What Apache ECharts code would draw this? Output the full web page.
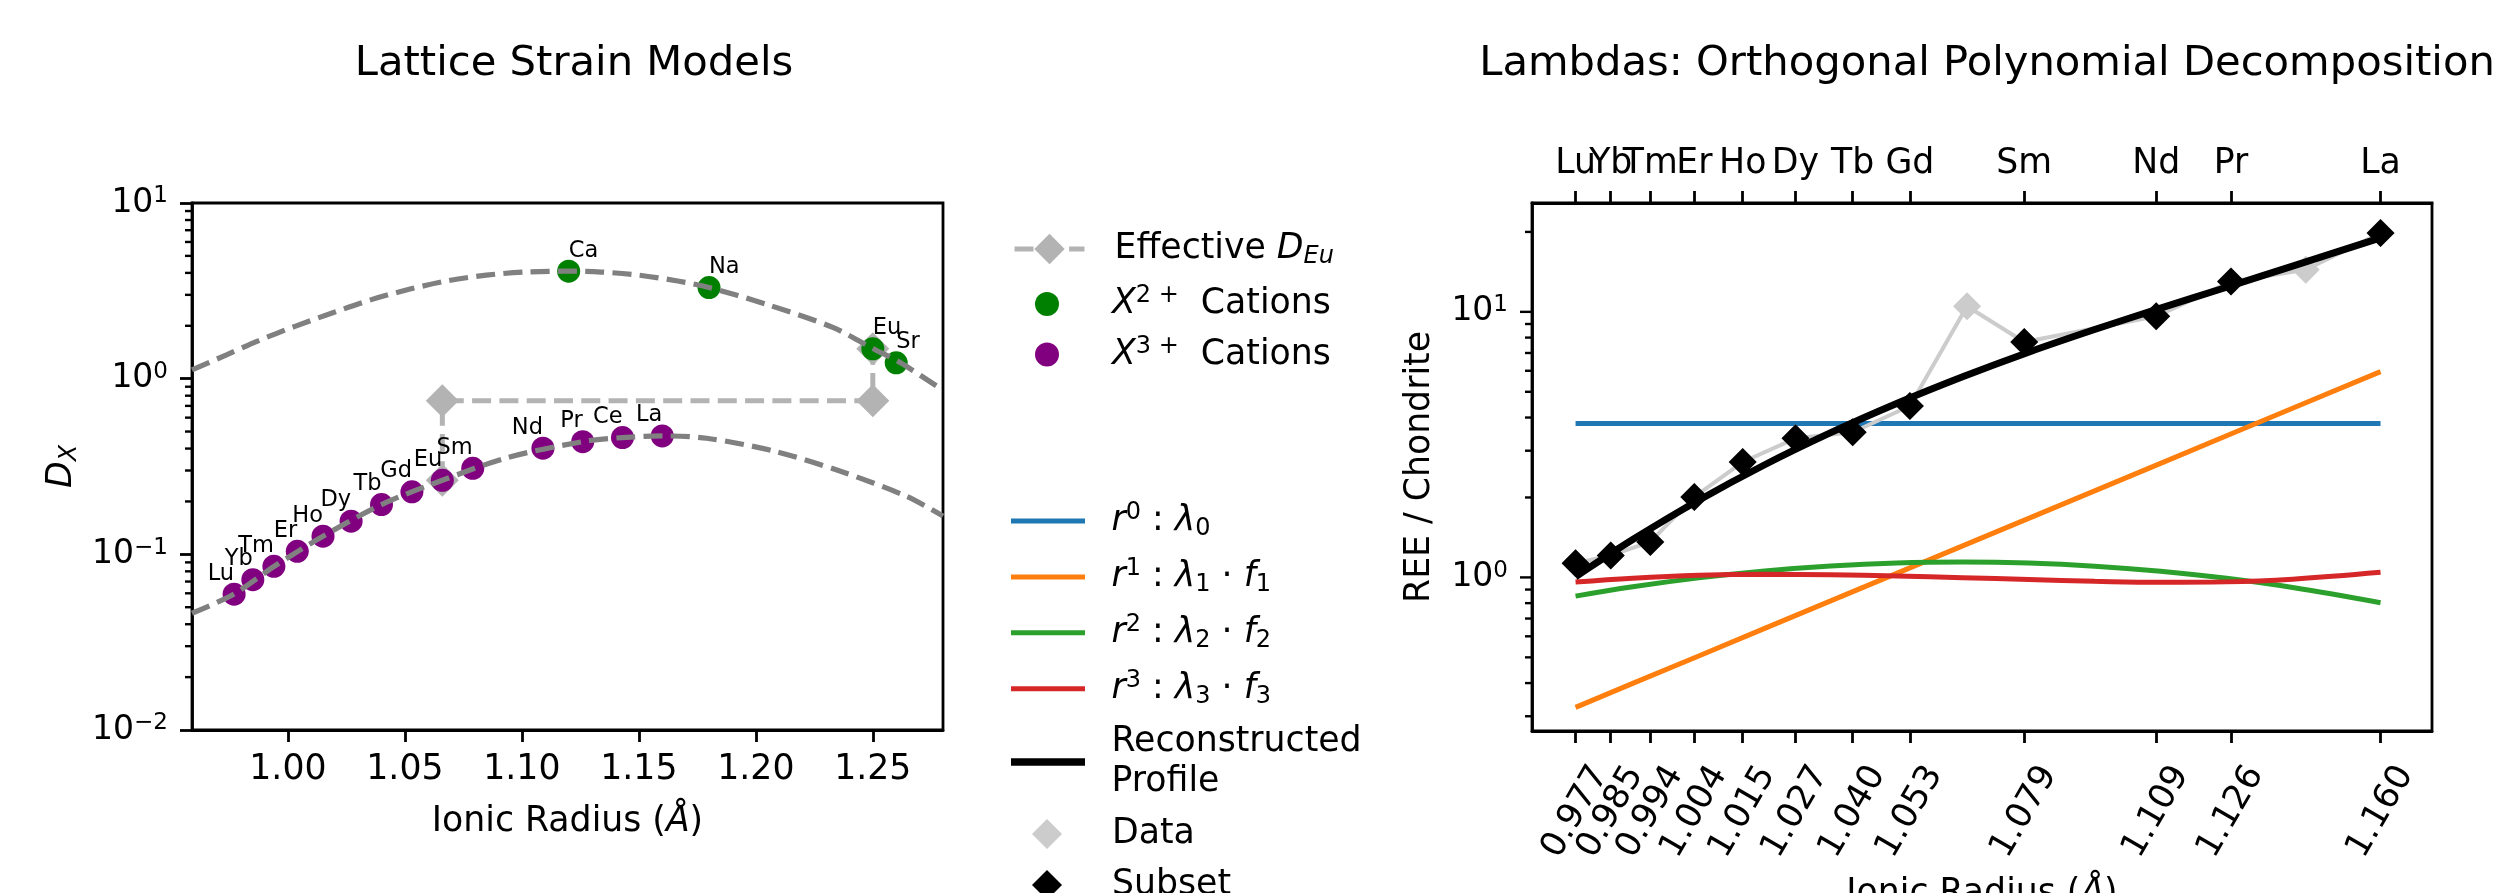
<!DOCTYPE html>
<html><head><meta charset="utf-8">
<script src="https://cdn.jsdelivr.net/npm/echarts@6/dist/echarts.min.js"></script>
<style>html,body{margin:0;padding:0;background:#fff}#c{width:2499px;height:893px}</style>
</head><body><div id="c"></div>
<script>
// ---------------- data: left panel (lattice strain) ----------------
const ion3Names = ['Lu','Yb','Tm','Er','Ho','Dy','Tb','Gd','Eu','Sm','Nd','Pr','Ce','La'];
const ion3Radii = [0.977,0.985,0.994,1.004,1.015,1.027,1.040,1.053,1.066,1.079,1.109,1.126,1.143,1.160];
const ion3D     = [0.0593,0.0717,0.0854,0.104,0.1268,0.1545,0.192,0.227,0.264,0.309,0.402,0.438,0.462,0.472];
const ion2Names = ['Ca','Na','Eu','Sr'];
const ion2Radii = [1.12,1.18,1.25,1.26];
const ion2D     = [4.09,3.30,1.48,1.23];
const effEuRadii = [1.066,1.066,1.25,1.25];
const effEuD     = [0.264,0.748,0.748,1.48];
const curve2Radii = [0.959,0.974,0.987,1.003,1.0195,1.0357,1.0522,1.0686,1.0848,1.1012,1.12,1.1339,1.1501,1.1666,1.18,1.2046,1.2329,1.25,1.2615,1.28];
const curve2D     = [1.122,1.371,1.637,1.986,2.382,2.818,3.236,3.614,3.882,4.046,4.093,4.046,3.882,3.597,3.304,2.649,1.959,1.486,1.239,0.859];
const curve3Radii = [0.959,0.977,0.994,1.015,1.040,1.066,1.094,1.126,1.143,1.160,1.179,1.2074,1.2359,1.2644,1.28];
const curve3D     = [0.0462,0.0595,0.0852,0.1268,0.192,0.264,0.356,0.438,0.462,0.472,0.458,0.388,0.298,0.214,0.165];
const leftXMin = 0.959, leftXMax = 1.280;
const leftXTicks = [1.00,1.05,1.10,1.15,1.20,1.25];
const leftYMinorTicks = [0.02,0.03,0.04,0.05,0.06,0.07,0.08,0.09,0.2,0.3,0.4,0.5,0.6,0.7,0.8,0.9,2,3,4,5,6,7,8,9];

// ---------------- data: right panel (lambdas) ----------------
const reeNames = ['Lu','Yb','Tm','Er','Ho','Dy','Tb','Gd','Eu','Sm','Nd','Pr','Ce','La'];
const reeRadii = [0.977,0.985,0.994,1.004,1.015,1.027,1.040,1.053,1.066,1.079,1.109,1.126,1.143,1.160];
const reeNorm  = [1.13,1.21,1.36,2.01,2.72,3.34,3.52,4.42,10.5,7.70,9.62,13.0,14.4,19.8];
const subsetNames = ['Lu','Yb','Tm','Er','Ho','Dy','Tb','Gd','Sm','Nd','Pr','La'];
const subsetRadii = [0.977,0.985,0.994,1.004,1.015,1.027,1.040,1.053,1.079,1.109,1.126,1.160];
const subsetNorm  = [1.13,1.21,1.36,2.01,2.72,3.34,3.52,4.42,7.70,9.62,13.0,19.8];
const compRadii = [0.977,0.990,1.005,1.020,1.035,1.050,1.065,1.080,1.095,1.110,1.125,1.140,1.160];
const comp0 = [3.80,3.80,3.80,3.80,3.80,3.80,3.80,3.80,3.80,3.80,3.80,3.80,3.80];
const comp1 = [0.324,0.399,0.506,0.643,0.816,1.036,1.315,1.669,2.118,2.689,3.414,4.334,5.957];
const comp2 = [0.850,0.922,0.996,1.058,1.104,1.133,1.142,1.132,1.102,1.054,0.992,0.916,0.803];
const comp3 = [0.960,0.993,1.018,1.027,1.024,1.013,0.998,0.982,0.967,0.958,0.962,0.985,1.045];
const profile = [1.006,1.388,1.952,2.656,3.508,4.519,5.696,7.050,8.58,10.33,12.38,14.87,18.99];
const rightXMin = 0.9671, rightXMax = 1.1717;
const rightYMin = 0.264, rightYMax = 25.7;
const rightYMajorTicks = [1,10];
const rightYMinorTicks = [0.3,0.4,0.5,0.6,0.7,0.8,0.9,2,3,4,5,6,7,8,9,20];

// ---------------- chart ----------------
const FONT = 'DejaVu Sans';
const FS = 34.7;
const zip = (a, b) => a.map((v, i) => [v, b[i]]);
const sup = (e) => (e < 0 ? '\u2212' + (-e) : '' + e);

const logLabelRich = {
  b: {fontFamily: FONT, fontSize: 33, lineHeight: 36, color: '#000'},
  s: {fontFamily: FONT, fontSize: 23, lineHeight: 22, verticalAlign: 'top', color: '#000'}
};
function logFormatter(v) {
  const e = Math.round(Math.log10(v));
  if (Math.abs(v - Math.pow(10, e)) > 1e-9 * Math.pow(10, e)) return '';
  return '{b|10}{s|' + sup(e) + '}';
}
const richCommon = {
  i:   {fontFamily: FONT, fontSize: FS, fontStyle: 'italic', lineHeight: 40, color: '#000'},
  sup: {fontFamily: FONT, fontSize: 24, lineHeight: 24, verticalAlign: 'top', color: '#000'},
  sub: {fontFamily: FONT, fontSize: 24, lineHeight: 24, verticalAlign: 'bottom', color: '#000'},
  isub:{fontFamily: FONT, fontSize: 24, lineHeight: 24, verticalAlign: 'bottom', fontStyle: 'italic', color: '#000'},
  g1:  {width: 25, lineHeight: 40},
  g2:  {width: 21.5, lineHeight: 40}
};
const legendText = {
  'Effective D_Eu': 'Effective {i|D}{isub|Eu}',
  'X2+': '{i|X}{sup|2 +}  Cations',
  'X3+': '{i|X}{sup|3 +}  Cations',
  'r0': '{i|r}{sup|0} : {i|λ}{sub|0}',
  'r1': '{i|r}{sup|1} : {i|λ}{sub|1} · {i|f}{sub|1}',
  'r2': '{i|r}{sup|2} : {i|λ}{sub|2} · {i|f}{sub|2}',
  'r3': '{i|r}{sup|3} : {i|λ}{sub|3} · {i|f}{sub|3}',
  'Reconstructed Profile': 'Reconstructed\nProfile',
  'Data': 'Data',
  'Subset': 'Subset'
};
const legTextStyle = {fontFamily: FONT, fontSize: FS, color: '#000', lineHeight: 40, rich: richCommon};
const LINE_ICON = 'path://M0,0L74,0L74,5L0,5Z';
const THICK_ICON = 'path://M0,0L74,0L74,7.5L0,7.5Z';
const DIAMOND_ICON = 'path://M15,0L30,15L15,30L0,15Z';
function legendBase(gap) {
  const sp = '{' + gap + '| }';
  return {orient: 'vertical', padding: 0, selectedMode: false, textStyle: legTextStyle, height: 300,
    lineStyle: {width: 5},
    formatter: (name) => sp + legendText[name].split('\n').join('\n' + sp)};
}

function tickSeries(xIdx, yIdx, values, xVal, len) {
  return {
    type: 'custom', xAxisIndex: xIdx, yAxisIndex: yIdx, clip: false, silent: true, z: 10,
    data: values.map(v => [xVal, v]),
    renderItem: (params, api) => {
      const y = api.coord([api.value(0), api.value(1)])[1];
      const x = params.coordSys.x;
      return {type: 'line', shape: {x1: x - len, y1: y, x2: x, y2: y},
        style: {stroke: '#000', lineWidth: 2.4}};
    }
  };
}

const axisLineStyle = {show: true, lineStyle: {color: '#000', width: 2.8}};
const tickStyle = {show: true, length: 12, lineStyle: {color: '#000', width: 2.8}};
const nameStyle = {fontFamily: FONT, fontSize: FS, color: '#000', rich: richCommon};
// leading entry at the axis minimum is hidden via showMinLabel:false (keeps the overlapping Lu label visible)
const rightXTickValues = [rightXMin].concat(subsetRadii);

const chart = echarts.init(document.getElementById('c'), null, {renderer: 'canvas'});
chart.setOption({
  animation: false,
  backgroundColor: '#fff',
  textStyle: {fontFamily: FONT},
  title: [
    {text: 'Lattice Strain Models', left: 569, top: 38, textAlign: 'center',
     textStyle: {fontFamily: FONT, fontSize: 41.7, fontWeight: 'normal', color: '#000'}},
    {text: 'Lambdas: Orthogonal Polynomial Decomposition', left: 1982, top: 38, textAlign: 'center',
     textStyle: {fontFamily: FONT, fontSize: 41.7, fontWeight: 'normal', color: '#000'}}
  ],
  grid: [
    {left: 192, top: 203, width: 751, height: 527, show: true, borderColor: '#000', borderWidth: 2.8, outerBoundsMode: 'none', containLabel: false},
    {left: 1532, top: 203, width: 900, height: 528, show: true, borderColor: '#000', borderWidth: 2.8, outerBoundsMode: 'none', containLabel: false}
  ],
  legend: [
    Object.assign(legendBase('g1'), {data: [{name: 'Effective D_Eu'}], left: 1012, top: 229, itemWidth: 70, itemHeight: 38}),
    Object.assign(legendBase('g1'), {data: [{name: 'X2+', icon: 'circle'}, {name: 'X3+', icon: 'circle'}], left: 1035, top: 284, itemWidth: 70, itemHeight: 24, itemGap: 10.5}),
    Object.assign(legendBase('g2'), {data: ['r0','r1','r2','r3'].map(n => ({name: n, icon: LINE_ICON})), left: 1011, top: 501, itemWidth: 74, itemHeight: 5, itemGap: 15.9}),
    Object.assign(legendBase('g2'), {data: [{name: 'Reconstructed Profile', icon: THICK_ICON}], left: 1011, top: 722, itemWidth: 74, itemHeight: 7.5}),
    Object.assign(legendBase('g1'), {data: [{name: 'Data', icon: DIAMOND_ICON}], left: 1032, top: 814, itemWidth: 70, itemHeight: 30, height: 60}),
    Object.assign(legendBase('g1'), {data: [{name: 'Subset', icon: DIAMOND_ICON}], left: 1032, top: 865, itemWidth: 70, itemHeight: 30, height: 60})
  ],
  xAxis: [
    {gridIndex: 0, type: 'value', min: leftXMin, max: leftXMax,
     axisLine: axisLineStyle, splitLine: {show: false},
     axisTick: Object.assign({customValues: leftXTicks}, tickStyle),
     axisLabel: {customValues: leftXTicks, formatter: v => v.toFixed(2), fontFamily: FONT, fontSize: FS, color: '#000', margin: 22},
     name: 'Ionic Radius ({i|Å})', nameLocation: 'middle', nameGap: 72, nameMoveOverlap: false, nameTextStyle: nameStyle},
    {gridIndex: 1, type: 'value', min: rightXMin, max: rightXMax,
     axisLine: axisLineStyle, splitLine: {show: false},
     axisTick: Object.assign({customValues: rightXTickValues}, tickStyle),
     axisLabel: {customValues: rightXTickValues, showMinLabel: false, hideOverlap: false,
                 formatter: v => (v === rightXMin ? '' : v.toFixed(3)), rotate: 60, align: 'center', verticalAlign: 'middle',
                 fontFamily: FONT, fontSize: FS, color: '#000', margin: 81},
     name: 'Ionic Radius ({i|Å})', nameLocation: 'middle', nameGap: 143, nameMoveOverlap: false, nameTextStyle: nameStyle},
    {gridIndex: 1, type: 'value', position: 'top', min: rightXMin, max: rightXMax,
     axisLine: axisLineStyle, splitLine: {show: false},
     axisTick: Object.assign({customValues: rightXTickValues}, tickStyle),
     axisLabel: {customValues: rightXTickValues, showMinLabel: false, hideOverlap: false,
                 formatter: v => { const k = subsetRadii.findIndex(r => Math.abs(r - v) < 1e-6); return k >= 0 ? subsetNames[k] : ''; },
                 fontFamily: FONT, fontSize: FS, color: '#000', margin: 22}}
  ],
  yAxis: [
    {gridIndex: 0, type: 'log', logBase: 10, min: 0.01, max: 10,
     axisLine: axisLineStyle, splitLine: {show: false}, minorTick: {show: false},
     axisTick: tickStyle,
     axisLabel: {formatter: logFormatter, rich: logLabelRich, margin: 24, color: '#000'},
     name: '{i|D}{isub|X}', nameLocation: 'middle', nameGap: 110, nameMoveOverlap: false, nameTextStyle: nameStyle},
    {gridIndex: 1, type: 'log', logBase: 10, min: rightYMin, max: rightYMax,
     axisLine: axisLineStyle, splitLine: {show: false}, minorTick: {show: false},
     axisTick: {show: false},
     axisLabel: {formatter: logFormatter, rich: logLabelRich, margin: 24, color: '#000', showMinLabel: false, showMaxLabel: false},
     name: 'REE / Chondrite', nameLocation: 'middle', nameGap: 95, nameMoveOverlap: false, nameTextStyle: nameStyle}
  ],
  series: [
    // ---- left panel ----
    {name: 'Effective D_Eu', type: 'line', xAxisIndex: 0, yAxisIndex: 0, z: 2,
     data: zip(effEuRadii, effEuD), symbol: 'diamond', symbolSize: 33, showSymbol: true,
     itemStyle: {color: '#b3b3b3'}, lineStyle: {color: '#b3b3b3', width: 5, type: [19, 8.3]}},
    {name: 'X3+', type: 'scatter', xAxisIndex: 0, yAxisIndex: 0, z: 3,
     data: ion3Radii.map((r, i) => ({name: ion3Names[i], value: [r, ion3D[i]]})),
     symbol: 'circle', symbolSize: 23, itemStyle: {color: '#800080', opacity: 1},
     label: {show: true, formatter: '{b}', position: 'inside', align: 'right', verticalAlign: 'bottom', offset: [0, -9],
             fontFamily: FONT, fontSize: 22.5, color: '#000'}},
    {name: 'X2+', type: 'scatter', xAxisIndex: 0, yAxisIndex: 0, z: 3,
     data: ion2Radii.map((r, i) => ({name: ion2Names[i], value: [r, ion2D[i]]})),
     symbol: 'circle', symbolSize: 23, itemStyle: {color: '#008000', opacity: 1},
     label: {show: true, formatter: '{b}', position: 'inside', align: 'left', verticalAlign: 'bottom', offset: [0, -9],
             fontFamily: FONT, fontSize: 22.5, color: '#000'}},
    {name: 'curve3', type: 'line', xAxisIndex: 0, yAxisIndex: 0, z: 4, smooth: 0.3,
     data: zip(curve3Radii, curve3D), symbol: 'none', lineStyle: {color: '#808080', width: 5.2, type: [19, 8.3], cap: 'butt'}},
    {name: 'curve2', type: 'line', xAxisIndex: 0, yAxisIndex: 0, z: 4, smooth: 0.3,
     data: zip(curve2Radii, curve2D), symbol: 'none', lineStyle: {color: '#808080', width: 5.2, type: [19, 8.3], cap: 'butt'}},
    tickSeries(0, 0, leftYMinorTicks, 1.0, 7),
    // ---- right panel ----
    {name: 'r0', type: 'line', xAxisIndex: 1, yAxisIndex: 1, z: 2, data: zip(compRadii, comp0), symbol: 'none',
     itemStyle: {color: '#1f77b4'}, lineStyle: {color: '#1f77b4', width: 5}},
    {name: 'r1', type: 'line', xAxisIndex: 1, yAxisIndex: 1, z: 2, data: zip(compRadii, comp1), symbol: 'none',
     itemStyle: {color: '#ff7f0e'}, lineStyle: {color: '#ff7f0e', width: 5}},
    {name: 'r2', type: 'line', xAxisIndex: 1, yAxisIndex: 1, z: 2, data: zip(compRadii, comp2), symbol: 'none', smooth: 0.4,
     itemStyle: {color: '#2ca02c'}, lineStyle: {color: '#2ca02c', width: 5}},
    {name: 'r3', type: 'line', xAxisIndex: 1, yAxisIndex: 1, z: 2, data: zip(compRadii, comp3), symbol: 'none', smooth: 0.4,
     itemStyle: {color: '#d62728'}, lineStyle: {color: '#d62728', width: 5}},
    {name: 'Data', type: 'line', xAxisIndex: 1, yAxisIndex: 1, z: 3, data: zip(reeRadii, reeNorm),
     symbol: 'diamond', symbolSize: 28, showSymbol: true,
     itemStyle: {color: '#cccccc'}, lineStyle: {color: '#cccccc', width: 4}},
    {name: 'Subset', type: 'scatter', xAxisIndex: 1, yAxisIndex: 1, z: 4, data: zip(subsetRadii, subsetNorm),
     symbol: 'diamond', symbolSize: 28, itemStyle: {color: '#000', opacity: 1}},
    {name: 'Reconstructed Profile', type: 'line', xAxisIndex: 1, yAxisIndex: 1, z: 5, data: zip(compRadii, profile),
     symbol: 'none', smooth: 0.3,
     itemStyle: {color: '#000'}, lineStyle: {color: '#000', width: 7}},
    tickSeries(1, 1, rightYMajorTicks, 1.0, 12),
    tickSeries(1, 1, rightYMinorTicks, 1.0, 7)
  ]
});
</script>
</body></html>
